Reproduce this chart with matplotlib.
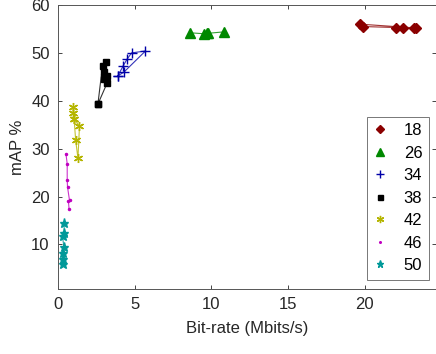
import matplotlib
matplotlib.use("Agg")
import matplotlib.pyplot as plt

plt.rcParams['font.family'] = ['Liberation Sans', 'DejaVu Sans']

labels = ['18', '26', '34', '38', '42', '46', '50']
colors = ['#8B0000', '#008800', '#0000A8', '#000000', '#B5B500', '#C000C0', '#009999']
markers = ['D', '^', '+', 's', (6, 2, 0), '.', '*']
msizes = [5, 6.5, 6.5, 4.5, 6.5, 3, 6.5]

x18 = [19.7, 23.3, 23.2, 22.5, 22.0, 19.9]
y18 = [56.0, 55.2, 55.3, 55.3, 55.3, 55.5]
x26 = [8.6, 9.5, 9.7, 9.8, 10.85]
y26 = [54.2, 54.0, 54.2, 54.1, 54.4]
x34 = [3.9, 4.25, 4.5, 4.8, 5.7, 4.3, 3.9]
y34 = [45.2, 47.3, 48.7, 50.0, 50.4, 46.0, 45.2]
x38 = [2.6, 2.9, 3.1, 3.0, 3.2, 3.0, 3.2, 2.6]
y38 = [39.3, 47.3, 48.1, 46.0, 45.2, 44.6, 43.7, 39.3]
x42 = [1.0, 1.0, 1.05, 1.15, 1.3, 1.4, 1.05]
y42 = [38.7, 37.4, 36.2, 31.8, 28.0, 34.7, 36.2]
x46 = [0.52, 0.6, 0.6, 0.62, 0.75, 0.68, 0.72]
y46 = [28.9, 26.8, 23.4, 22.0, 19.2, 19.0, 17.4]
x50 = [0.4, 0.4, 0.3, 0.38, 0.35, 0.32, 0.3]
y50 = [14.4, 12.3, 11.7, 9.4, 8.2, 6.9, 5.9]

xs = [x18, x26, x34, x38, x42, x46, x50]
ys = [y18, y26, y34, y38, y42, y46, y50]

fig = plt.figure(figsize=(4.36, 3.54), dpi=100)
ax = fig.add_axes([58/436, 65/354, 377.5/436, 284/354])

handles = []
for x, y, c, m, s, lab in zip(xs, ys, colors, markers, msizes, labels):
    ax.plot(x, y, color=c, lw=0.8, alpha=0.8)
    ax.plot(x, y, ls='none', marker=m, color=c, ms=s, mew=1.0)
    h, = ax.plot([], [], ls='none', marker=m, color=c, ms=s*0.8, mew=1.0, label=lab)
    handles.append(h)

ax.set_xlim(0, 24.6)
ax.set_ylim(0.7, 60)
ax.set_xticks([0, 5, 10, 15, 20])
ax.set_yticks([10, 20, 30, 40, 50, 60])
ax.tick_params(direction='in', top=True, right=True, labelsize=12, colors='#262626',
               length=3, width=0.6, pad=6)
for sp in ax.spines.values():
    sp.set_color('#555555')
    sp.set_linewidth(0.7)
ax.set_xlabel('Bit-rate (Mbits/s)', fontsize=12, color='#262626', labelpad=6)
ax.set_ylabel('mAP %', fontsize=12, color='#262626', labelpad=4)

leg = ax.legend(handles=handles, loc='lower right', bbox_to_anchor=(0.983, 0.032),
                borderaxespad=0, fontsize=12, frameon=True, fancybox=False,
                handlelength=0.8, handletextpad=1.0, labelspacing=0.45,
                borderpad=0.4)
leg.get_frame().set_edgecolor('#555555')
leg.get_frame().set_linewidth(0.7)

fig.savefig('out.png', dpi=100)
